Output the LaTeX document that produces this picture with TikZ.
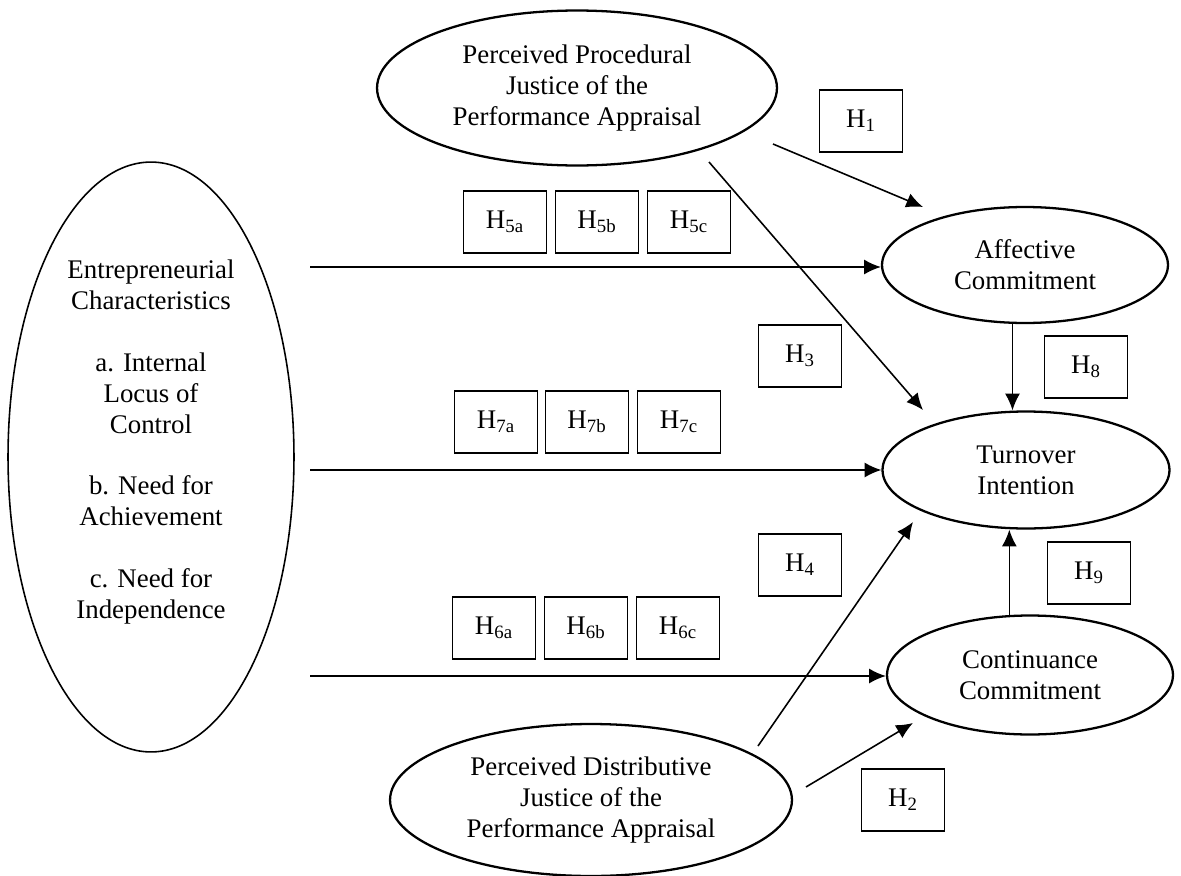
\documentclass[tikz,border=0pt]{standalone}
\usepackage{fontspec}
\setmainfont{Liberation Serif}
\usetikzlibrary{shapes.geometric, arrows.meta}

\begin{document}
\begin{tikzpicture}[x=0.02cm, y=-0.02cm, >={Latex[length=9.5pt,width=8.5pt]},
  cons/.style={draw, ellipse, line width=1.3pt, inner sep=0, align=center, font=\fontsize{15.3}{17.6}\selectfont},
  hyp/.style={draw, rectangle, line width=1pt, minimum width=1.66cm, minimum height=1.24cm, inner sep=0, font=\fontsize{15.3}{17.6}\selectfont},
  link/.style={->, line width=0.9pt}]
\useasboundingbox (0,0) rectangle (1181,876);
% Constructs
\node[cons, minimum width=8cm, minimum height=3.1cm] (ppj) at (577,88) {Perceived Procedural\\Justice of the\\Performance Appraisal};
\node[cons, minimum width=8.04cm, minimum height=3.04cm] (pdj) at (591,800) {Perceived Distributive\\Justice of the\\Performance Appraisal};
\node[cons, line width=0.9pt, minimum width=5.72cm, minimum height=11.8cm] (ec) at (151,457) {};
\node[align=center, font=\fontsize{15.3}{17.6}\selectfont] (ectext) at (151,442) {Entrepreneurial\\Characteristics\\[17.6pt]a. Internal\\Locus of\\Control\\[17.6pt]b. Need for\\Achievement\\[17.6pt]c. Need for\\Independence};
\node[cons, minimum width=5.72cm, minimum height=2.32cm] (ac) at (1025,265) {Affective\\Commitment};
\node[cons, minimum width=5.74cm, minimum height=2.34cm] (ti) at (1026,470) {Turnover\\Intention};
\node[cons, minimum width=5.72cm, minimum height=2.38cm] (cc) at (1030,675) {Continuance\\Commitment};
% Hypotheses
\node[hyp] (h1) at (861,121) {H\textsubscript{1}};
\node[hyp] (h2) at (903,800) {H\textsubscript{2}};
\node[hyp] (h3) at (800,356) {H\textsubscript{3}};
\node[hyp] (h4) at (800,565) {H\textsubscript{4}};
\node[hyp] (h8) at (1086,367) {H\textsubscript{8}};
\node[hyp] (h9) at (1089,573) {H\textsubscript{9}};
\node[hyp] (h5a) at (505,222) {H\textsubscript{5a}};
\node[hyp] (h5b) at (597,222) {H\textsubscript{5b}};
\node[hyp] (h5c) at (689,222) {H\textsubscript{5c}};
\node[hyp] (h7a) at (496,422) {H\textsubscript{7a}};
\node[hyp] (h7b) at (587,422) {H\textsubscript{7b}};
\node[hyp] (h7c) at (679,422) {H\textsubscript{7c}};
\node[hyp] (h6a) at (494,628) {H\textsubscript{6a}};
\node[hyp] (h6b) at (586,628) {H\textsubscript{6b}};
\node[hyp] (h6c) at (678,628) {H\textsubscript{6c}};
% Free ends
\coordinate (ppj1) at (773,144);
\coordinate (ac1) at (923,207);
\coordinate (ppj2) at (709,162);
\coordinate (ti1) at (923,410);
\coordinate (pdj1) at (758,746);
\coordinate (ti2) at (913,522);
\coordinate (pdj2) at (806,787);
\coordinate (cc1) at (913,723);
\coordinate (e1) at (310,267);
\coordinate (e2) at (310,470);
\coordinate (e3) at (310,676);
% Arrows
\draw[link] (ppj1)--(ac1);
\draw[link] (ppj2)--(ti1);
\draw[link] (pdj1)--(ti2);
\draw[link] (pdj2)--(cc1);
\draw[link] (e1)--(e1 -| ac.west);
\draw[link] (e2)--(e2 -| ti.west);
\draw[link] (e3)--(e3 -| cc.west);
\draw[link] (ac.-102)--(ac.-102 |- ti.north);
\draw[link] (cc.109)--(cc.109 |- ti.south);
\end{tikzpicture}
\end{document}
